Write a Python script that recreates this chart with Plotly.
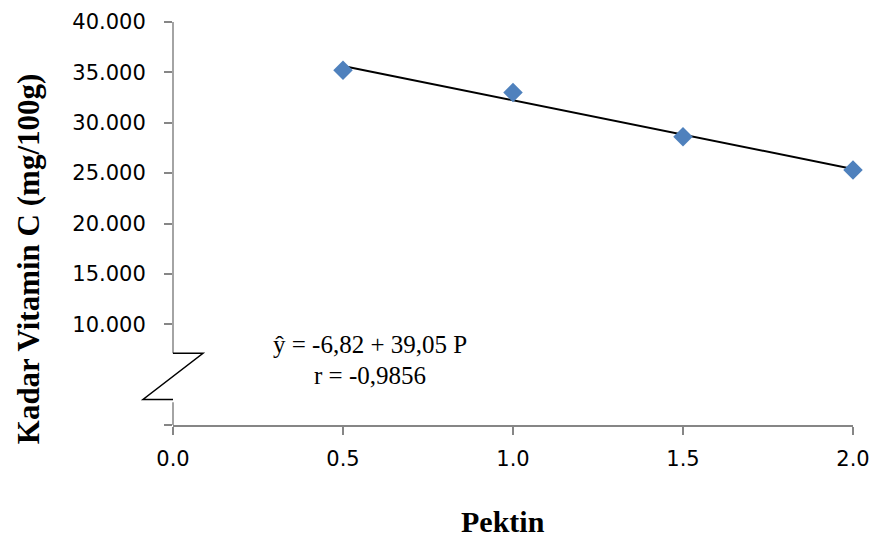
import plotly.graph_objects as go

# Data
pektin = [0.5, 1.0, 1.5, 2.0]
vitamin_c = [35.2, 33.0, 28.6, 25.3]
intercept = 39.05
slope = -6.82
x_ticks = [0.0, 0.5, 1.0, 1.5, 2.0]
x_ticklabels = ["0.0", "0.5", "1.0", "1.5", "2.0"]
y_ticks = [0, 10, 15, 20, 25, 30, 35, 40]
y_ticklabels = ["", "10.000", "15.000", "20.000", "25.000", "30.000", "35.000", "40.000"]

trend_x = [pektin[0], pektin[-1]]
trend_y = [intercept + slope * v for v in trend_x]

AX = "#868686"
fig = go.Figure()
fig.add_trace(go.Scatter(x=trend_x, y=trend_y, mode="lines",
                         line=dict(color="black", width=2), cliponaxis=False,
                         showlegend=False, hoverinfo="skip"))
fig.add_trace(go.Scatter(x=pektin, y=vitamin_c, mode="markers",
                         marker=dict(symbol="diamond", size=15, color="#4F81BD"),
                         cliponaxis=False, showlegend=False))

fig.update_layout(
    width=875, height=539,
    margin=dict(l=173, r=22, t=22, b=114, autoexpand=False),
    plot_bgcolor="white", paper_bgcolor="white",
    xaxis=dict(range=[0, 2], tickvals=x_ticks, ticktext=x_ticklabels,
               showline=True, linecolor=AX, linewidth=1.5, automargin=False,
               ticks="outside", ticklen=8, tickwidth=1.5, tickcolor=AX,
               showgrid=False, zeroline=False, ticklabelstandoff=6,
               tickfont=dict(family="DejaVu Sans", size=21, color="black")),
    yaxis=dict(range=[0, 40], tickvals=y_ticks, ticktext=y_ticklabels,
               showline=False, ticks="outside", ticklen=8, tickwidth=1.5, tickcolor=AX,
               showgrid=False, zeroline=False, ticklabelstandoff=14, automargin=False,
               tickfont=dict(family="DejaVu Sans", size=21, color="black")),
    shapes=[
        dict(type="line", xref="paper", yref="y", x0=0, x1=0, y0=7.12, y1=40,
             line=dict(color=AX, width=1.5)),
        dict(type="line", xref="paper", yref="y", x0=0, x1=0, y0=0, y1=2.25,
             line=dict(color=AX, width=1.5)),
        dict(type="path", xref="paper", yref="y",
             path="M 0 7.12 L 0.0441 7.12 L -0.0441 2.54 L 0 2.54",
             line=dict(color="black", width=1.5)),
    ],
    annotations=[
        dict(x=0.579, y=8.0, xref="x", yref="y", text="ŷ = -6,82 + 39,05 P",
             showarrow=False, xanchor="center", yanchor="middle",
             font=dict(family="Liberation Serif", size=25, color="black")),
        dict(x=0.579, y=4.93, xref="x", yref="y", text="r = -0,9856",
             showarrow=False, xanchor="center", yanchor="middle",
             font=dict(family="Liberation Serif", size=25, color="black")),
        dict(x=(28 - 173) / 680, y=(424.6 - 259) / 402.6, xref="paper", yref="paper",
             text="<b>Kadar Vitamin C (mg/100g)</b>", textangle=-90,
             showarrow=False, xanchor="center", yanchor="middle",
             font=dict(family="Liberation Serif", size=31, color="black")),
        dict(x=(502.5 - 173) / 680, y=(424.6 - 521) / 402.6, xref="paper", yref="paper",
             text="<b>Pektin</b>", showarrow=False, xanchor="center", yanchor="middle",
             font=dict(family="Liberation Serif", size=30, color="black")),
    ],
)

fig.write_html("out.html")
